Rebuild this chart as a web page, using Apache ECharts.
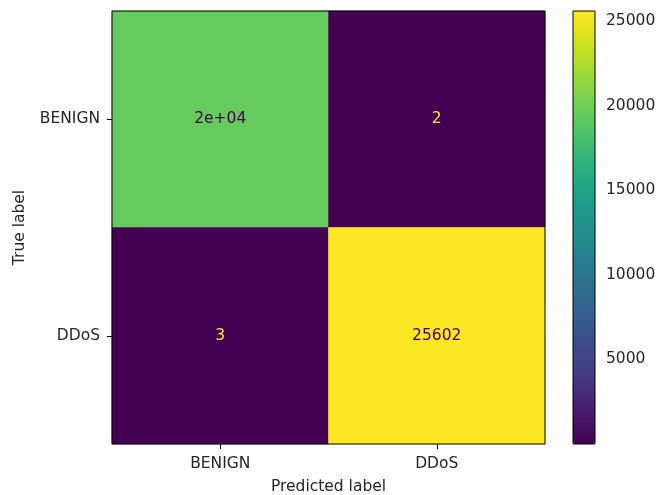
<!DOCTYPE html>
<html>
<head>
<meta charset="utf-8">
<script src="https://cdn.jsdelivr.net/npm/echarts@6/dist/echarts.min.js"></script>
<style>html,body{margin:0;padding:0;background:#fff;}#chart{width:657px;height:495px;}</style>
</head>
<body>
<div id="chart"></div>
<script>
// ---- data ----
const predictedLabels = ['BENIGN', 'DDoS'];
const trueLabels = ['BENIGN', 'DDoS'];
// rows: true label, cols: predicted label
const matrixBenign = [19550, 2];
const matrixDdos = [3, 25602];
const colorbarTicks = [5000, 10000, 15000, 20000, 25000];

const viridis = ['#440154','#471365','#482475','#453781','#414487','#3b528b','#355f8d','#2f6c8e','#2a788e','#25848e','#21918c','#1e9b8a','#22a884','#2fb47c','#44bf70','#5ec962','#7ad151','#9bd93c','#bddf26','#dfe318','#fde725'];

const rows = [matrixBenign, matrixDdos];
const allVals = rows.flat();
const vMin = Math.min(...allVals), vMax = Math.max(...allVals);
const thresh = (vMin + vMax) / 2;

function fmt(v) {
  // sklearn: use .2g unless longer than integer format
  let g;
  const n = Number(Number(v).toPrecision(2));
  const exp = n === 0 ? 0 : Math.floor(Math.log10(Math.abs(n)));
  if (exp >= 2) {
    const mant = Number((n / Math.pow(10, exp)).toPrecision(2)).toString();
    g = mant + 'e+' + (exp < 10 ? '0' + exp : exp);
  } else {
    g = String(n);
  }
  const d = String(Math.round(v));
  return g.length > d.length ? d : g;
}

const data = [];
rows.forEach((r, i) => r.forEach((v, j) => data.push({
  value: [j, i, v],
  label: {color: v < thresh ? viridis[viridis.length - 1] : viridis[0]}
})));

const chart = echarts.init(document.getElementById('chart'), null, {renderer: 'canvas'});
const font = 'DejaVu Sans';
const fs = 15.5;
const tc = '#262626';
chart.setOption({
  animation: false,
  backgroundColor: '#fff',
  textStyle: {fontFamily: font},
  grid: [
    {left: 112, top: 11, width: 433, height: 433, show: true, z: 10, borderColor: '#000', borderWidth: 1, backgroundColor: 'transparent', containLabel: false, outerBoundsMode: 'none'},
    {left: 573, top: 11, width: 22, height: 433, show: true, z: 10, borderColor: '#000', borderWidth: 1, backgroundColor: 'transparent', containLabel: false, outerBoundsMode: 'none'}
  ],
  xAxis: [
    {type: 'category', gridIndex: 0, data: predictedLabels, position: 'bottom',
     axisLine: {show: false}, splitLine: {show: false},
     axisTick: {show: true, alignWithLabel: true, length: 5, lineStyle: {color: '#000'}},
     axisLabel: {color: tc, fontSize: fs, fontFamily: font, margin: 12},
     name: 'Predicted label', nameLocation: 'middle', nameGap: 35,
     nameTextStyle: {color: tc, fontSize: fs, fontFamily: font}},
    {type: 'value', gridIndex: 1, show: false}
  ],
  yAxis: [
    {type: 'category', gridIndex: 0, data: trueLabels, inverse: true,
     axisLine: {show: false}, splitLine: {show: false},
     axisTick: {show: true, alignWithLabel: true, length: 5, lineStyle: {color: '#000'}},
     axisLabel: {color: tc, fontSize: fs, fontFamily: font, margin: 12},
     name: 'True label', nameLocation: 'middle', nameGap: 84, nameRotate: 90,
     nameTextStyle: {color: tc, fontSize: fs, fontFamily: font}},
    {type: 'value', gridIndex: 1, position: 'right', min: vMin, max: vMax,
     axisLine: {show: false}, splitLine: {show: false},
     axisTick: {show: true, length: 5, lineStyle: {color: '#000'}, customValues: colorbarTicks},
     axisLabel: {color: tc, fontSize: fs, fontFamily: font, margin: 11, customValues: colorbarTicks,
                 formatter: v => String(v)}}
  ],
  visualMap: {
    type: 'continuous', min: vMin, max: vMax, seriesIndex: 0,
    left: 573, top: 11, itemWidth: 22, itemHeight: 433, padding: 0,
    calculable: false, showLabel: false, text: null, orient: 'vertical',
    inRange: {color: viridis}
  },
  series: [{
    type: 'heatmap', xAxisIndex: 0, yAxisIndex: 0, data: data,
    itemStyle: {borderWidth: 0},
    emphasis: {disabled: true},
    label: {
      show: true, fontSize: fs, fontFamily: font,
      formatter: p => fmt(p.value[2])
    }
  }]
});
</script>
</body>
</html>
